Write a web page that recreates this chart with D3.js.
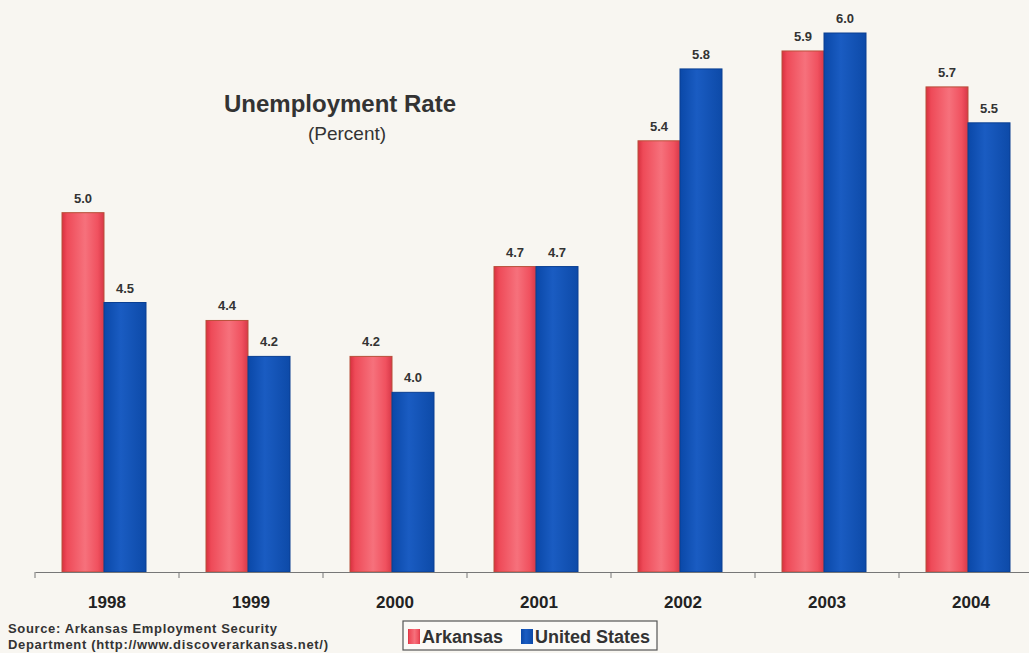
<!DOCTYPE html>
<html>
<head>
<meta charset="utf-8">
<script src="https://cdn.jsdelivr.net/npm/d3@7/dist/d3.min.js"></script>
<style>
  body { margin: 0; background: #f8f6f1; }
  svg { display: block; font-family: "Liberation Sans", Arial, sans-serif; }
</style>
</head>
<body>
<div id="chart"></div>
<script>
const years = ["1998", "1999", "2000", "2001", "2002", "2003", "2004"];
const arkansas = [5.0, 4.4, 4.2, 4.7, 5.4, 5.9, 5.7];
const unitedStates = [4.5, 4.2, 4.0, 4.7, 5.8, 6.0, 5.5];
const seriesNames = ["Arkansas", "United States"];

const width = 1029, height = 653;
const baseY = 572;

const svg = d3.select("#chart")
  .append("svg")
  .attr("width", width)
  .attr("height", height);

svg.append("rect").attr("width", width).attr("height", height).attr("fill", "#f8f6f1");

// gradients for the bars
const defs = svg.append("defs");
const red = defs.append("linearGradient").attr("id", "gRed").attr("x1", 0).attr("x2", 1);
[["0%", "#d8303f"], ["12%", "#ee4a58"], ["55%", "#f6717c"], ["85%", "#f0515f"], ["100%", "#d83848"]]
  .forEach(([o, c]) => red.append("stop").attr("offset", o).attr("stop-color", c));
const blue = defs.append("linearGradient").attr("id", "gBlue").attr("x1", 0).attr("x2", 1);
[["0%", "#0a48a8"], ["40%", "#1a5cc2"], ["100%", "#0d4aa8"]]
  .forEach(([o, c]) => blue.append("stop").attr("offset", o).attr("stop-color", c));

const x = d3.scaleBand().domain(years).range([35, 1043]);
const x1 = d3.scaleBand().domain(seriesNames).range([27, 111]);
const y = d3.scaleLinear().domain([3, 6]).range([baseY, 33]);

const data = years.map((yr, i) => ({ year: yr, values: [arkansas[i], unitedStates[i]] }));

const groups = svg.append("g")
  .selectAll("g")
  .data(data)
  .join("g")
  .attr("transform", d => `translate(${x(d.year)},0)`);

groups.selectAll("rect")
  .data(d => d.values.map((v, i) => ({ name: seriesNames[i], v })))
  .join("rect")
  .attr("x", d => x1(d.name))
  .attr("y", d => y(d.v))
  .attr("width", x1.bandwidth())
  .attr("height", d => baseY - y(d.v))
  .attr("fill", d => d.name === "Arkansas" ? "url(#gRed)" : "url(#gBlue)")
  .attr("stroke", d => d.name === "Arkansas" ? "#b8503a" : "#0a3f92")
  .attr("stroke-width", 1);

groups.selectAll("text.val")
  .data(d => d.values.map((v, i) => ({ name: seriesNames[i], v })))
  .join("text")
  .attr("class", "val")
  .attr("x", d => x1(d.name) + x1.bandwidth() / 2)
  .attr("y", d => y(d.v) - 10)
  .attr("text-anchor", "middle")
  .attr("font-size", 13)
  .attr("font-weight", "bold")
  .attr("fill", "#333")
  .text(d => d.v.toFixed(1));

// x axis
const axis = svg.append("g")
  .attr("transform", `translate(0,${baseY})`)
  .call(d3.axisBottom(x).tickSize(0).tickPadding(24));
axis.select(".domain").attr("stroke", "#777");
axis.selectAll(".tick text")
  .attr("font-size", 17)
  .attr("font-weight", "bold")
  .attr("fill", "#222")
  .attr("font-family", "Liberation Sans, Arial, sans-serif");
axis.selectAll(".sep")
  .data(years)
  .join("line")
  .attr("class", "sep")
  .attr("x1", d => x(d)).attr("x2", d => x(d))
  .attr("y1", 0).attr("y2", 6)
  .attr("stroke", "#777");

// title
svg.append("text")
  .attr("x", 340).attr("y", 112)
  .attr("text-anchor", "middle")
  .attr("font-size", 24).attr("font-weight", "bold").attr("fill", "#333")
  .text("Unemployment Rate");
svg.append("text")
  .attr("x", 347).attr("y", 140)
  .attr("text-anchor", "middle")
  .attr("font-size", 19).attr("fill", "#333")
  .text("(Percent)");

// source
svg.append("text")
  .attr("x", 8).attr("y", 633)
  .attr("font-size", 13).attr("font-weight", "bold").attr("fill", "#333")
  .attr("textLength", 269)
  .text("Source: Arkansas Employment Security");
svg.append("text")
  .attr("x", 8).attr("y", 649)
  .attr("font-size", 13).attr("font-weight", "bold").attr("fill", "#333")
  .attr("textLength", 320)
  .text("Department (http://www.discoverarkansas.net/)");

// legend
const legend = svg.append("g").attr("transform", "translate(403,621)");
legend.append("rect")
  .attr("width", 254).attr("height", 29)
  .attr("fill", "#fbfaf7").attr("stroke", "#555").attr("stroke-width", 1.2);
const items = legend.selectAll("g")
  .data(seriesNames)
  .join("g")
  .attr("transform", (d, i) => `translate(${i === 0 ? 5 : 118},0)`);
items.append("rect")
  .attr("y", 8).attr("width", 12).attr("height", 15)
  .attr("fill", (d, i) => i === 0 ? "url(#gRed)" : "url(#gBlue)");
items.append("text")
  .attr("x", 14).attr("y", 22)
  .attr("font-size", 18).attr("font-weight", "bold").attr("fill", "#333")
  .text(d => d);
</script>
</body>
</html>
